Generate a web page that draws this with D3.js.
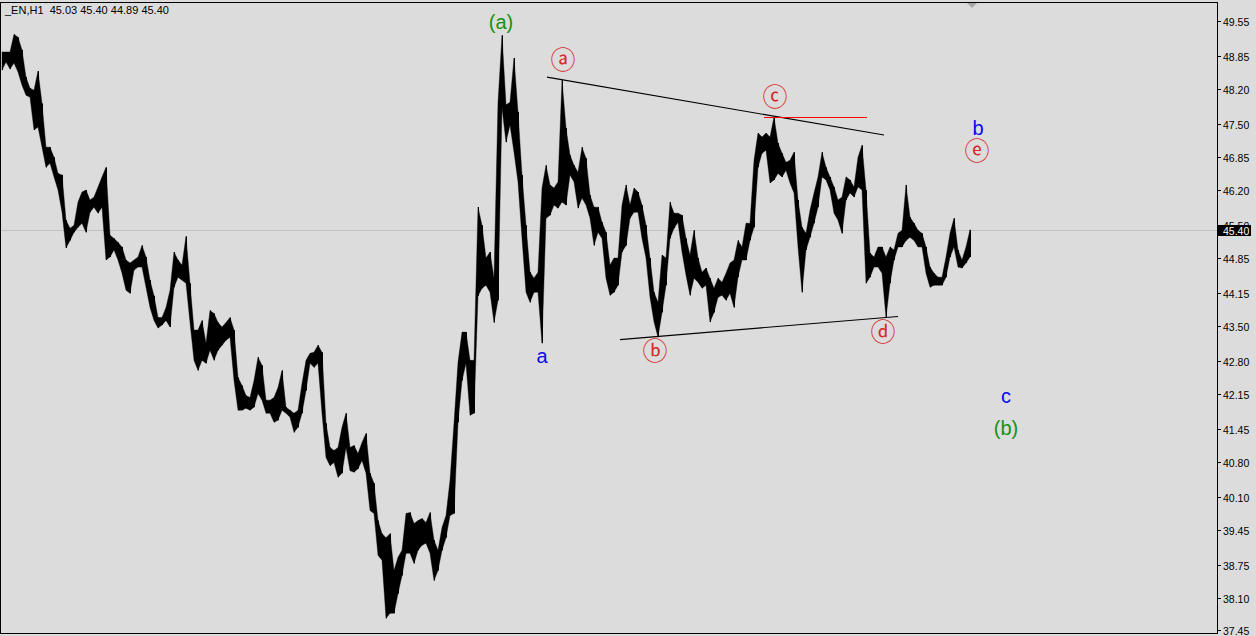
<!DOCTYPE html>
<html><head><meta charset="utf-8">
<script src="https://cdn.jsdelivr.net/npm/d3@7"></script>
<style>
html,body{margin:0;padding:0;background:#dcdcdc;}
svg{display:block}
</style></head>
<body>
<svg id="c" width="1256" height="636"></svg>
<script>
// ---------- data ----------
const symbol = "_EN,H1";
const ohlc = ["45.03", "45.40", "44.89", "45.40"];
const lastPrice = 45.40;
const highs = [48.93,48.93,48.93,49.28,49.22,48.97,48.43,48.21,48.17,48.55,
47.91,47.04,47.04,46.84,46.52,46.49,45.59,45.43,45.49,45.95,
46.15,46.19,45.99,46.05,46.25,46.45,46.64,45.29,45.23,45.15,
45.06,44.80,44.74,44.80,44.86,45.09,44.86,44.40,44.09,43.66,
43.66,43.86,44.20,44.96,44.80,44.70,45.27,44.34,43.41,43.41,
43.60,43.15,43.80,43.74,43.56,43.47,43.56,43.66,43.41,42.47,
42.31,42.11,42.07,42.41,42.87,42.71,42.02,42.02,42.07,42.27,
42.61,41.88,41.82,41.76,41.82,42.35,42.81,42.95,42.97,43.11,
42.97,41.56,41.08,41.02,41.08,41.48,41.76,41.08,41.12,40.96,
41.18,41.36,40.57,40.37,39.63,39.37,39.29,39.37,38.64,38.90,
39.04,39.77,39.79,39.57,39.63,39.67,39.59,39.79,39.24,39.04,
39.49,39.73,40.43,41.56,42.77,43.37,43.37,42.81,42.81,45.85,
45.49,44.84,44.96,44.44,47.93,49.26,47.88,47.93,48.81,47.74,
46.49,45.49,44.56,44.44,44.56,46.23,46.68,46.29,46.23,46.35,
48.37,47.42,46.88,46.68,46.54,47.04,46.82,46.09,45.85,45.85,
45.55,45.35,44.70,44.84,44.84,45.89,46.29,45.89,46.23,46.15,
45.89,45.49,44.84,44.16,43.96,44.90,44.84,45.95,45.73,45.73,
45.69,45.23,44.90,45.39,44.84,44.56,44.64,44.44,44.24,44.44,
44.36,44.54,44.74,44.80,45.19,45.06,45.53,45.53,46.78,47.32,
47.24,47.32,47.24,47.64,47.12,46.92,46.74,46.78,46.94,45.99,
45.45,45.33,45.79,46.13,46.45,46.94,46.64,46.45,46.25,45.99,
46.05,46.45,46.39,46.25,46.84,47.08,46.19,44.94,44.86,45.06,
45.06,44.86,45.06,45.00,45.33,45.39,46.29,45.65,45.53,45.39,
45.33,45.06,44.66,44.54,44.46,44.46,44.86,45.33,45.63,45.00,
44.80,45.06,45.40];
const lows = [48.57,48.73,48.59,48.71,48.53,48.27,48.07,48.03,47.38,47.44,
47.04,46.64,46.72,46.45,46.19,45.75,45.04,45.19,45.35,45.45,
45.53,45.35,45.75,45.85,45.73,45.85,44.80,44.86,45.00,44.80,
44.54,44.20,44.14,44.60,44.66,44.66,44.26,43.86,43.60,43.45,
43.51,43.60,43.47,44.26,44.46,44.40,44.34,43.56,42.81,42.61,
42.81,42.75,43.01,42.81,43.01,43.11,43.21,43.27,42.41,41.82,
41.82,41.86,41.82,41.88,42.15,42.02,41.76,41.76,41.58,41.62,
41.82,41.76,41.68,41.38,41.48,41.76,42.21,42.75,42.67,42.75,
41.76,40.88,40.72,40.78,40.49,40.57,41.08,40.62,40.59,40.66,
40.82,40.57,39.83,39.77,38.94,38.84,37.69,37.79,37.79,38.18,
38.54,38.98,38.98,38.78,39.04,39.14,39.18,38.98,38.44,38.64,
39.04,39.29,39.73,39.77,41.58,42.41,42.75,41.72,41.76,44.09,
44.24,44.30,44.16,43.56,44.00,47.82,47.14,47.48,46.94,46.35,
45.23,44.16,43.96,44.16,44.16,43.15,45.63,45.69,45.89,45.83,
45.95,45.89,46.49,46.35,45.83,46.03,45.89,45.63,45.09,45.35,
45.23,44.44,44.10,44.16,44.30,44.96,45.09,45.63,45.75,45.75,
45.23,44.84,44.06,43.57,43.27,43.76,44.30,45.23,45.43,45.55,
44.96,44.50,44.10,44.44,44.36,44.24,44.30,43.57,43.76,44.06,
44.10,44.00,44.14,43.86,44.46,44.80,44.80,45.19,45.45,46.64,
46.92,46.98,46.33,46.39,46.52,46.45,46.58,46.33,46.13,45.06,
44.16,45.00,45.25,45.53,45.85,46.45,46.39,46.19,45.73,45.59,
45.33,45.99,46.13,46.05,46.25,46.19,44.34,44.46,44.66,44.66,
44.54,43.66,44.34,44.80,45.06,45.06,45.19,45.25,45.19,45.06,
45.06,44.54,44.26,44.30,44.30,44.30,44.46,44.86,45.06,44.66,
44.64,44.74,44.86];
const tickLabels = ["49.55","48.85","48.20","47.50","46.85","46.20","45.50","44.85","44.15",
"43.50","42.80","42.15","41.45","40.80","40.10","39.45","38.75","38.10","37.45"];
// trend lines: [barIndex, price] pairs
const trendLines = [
  {x1:136.75, p1:48.43, x2:221.0, p2:47.28, color:"#000000"},
  {x1:155.0,  p1:43.22, x2:224.5, p2:43.68, color:"#000000"},
  {x1:191.0,  p1:47.63, x2:216.75,p2:47.63, color:"#ff0000"}
];
const waveText  = ["(a)", "ⓐ", "a", "ⓑ", "ⓒ", "ⓓ", "b", "ⓔ", "c", "(b)"];
const waveIndex = [125.25, 140.75, 135.5, 163.75, 193.75, 220.75, 244.5, 244.25, 251.5, 251.5];
const wavePrice = [49.52, 48.77, 42.89, 42.99, 48.03, 43.37, 47.42, 46.96, 42.10, 41.46];
const waveKind  = ["green","red","blue","red","red","red","blue","red","blue","green"];

// ---------- layout ----------
const W = 1256, H = 636;
const plotRight = 1217;
const colors = {green:"#149214", red:"#d42a2a", blue:"#0a0af0"};
const svg = d3.select("#c");
svg.append("rect").attr("width",W).attr("height",H).attr("fill","#dcdcdc");

const x = d3.scaleLinear().domain([0, highs.length]).range([0, highs.length*4]);
const y = d3.scaleLinear().domain([37.45, 49.55]).range([630.4, 20.7]);

// bid line
svg.append("line").attr("x1",1).attr("x2",plotRight).attr("y1",Math.round(y(lastPrice))+0.5)
  .attr("y2",Math.round(y(lastPrice))+0.5).attr("stroke","#c0c0c0").attr("stroke-width",1);

// price range band (high/low of each bar)
const bars = highs.map((h,i)=>({i, h, l:lows[i]}));
const area = d3.area().x(d=>x(d.i+0.5)).y0(d=>y(d.l)).y1(d=>y(d.h)).curve(d3.curveLinear);
svg.append("path").datum(bars).attr("d", area).attr("fill","#000")
  .attr("stroke","#000").attr("stroke-width",0.4);
// individual bar strokes
svg.append("g").selectAll("line").data(bars).join("line")
  .attr("x1",d=>Math.round(x(d.i+0.5))+0.5).attr("x2",d=>Math.round(x(d.i+0.5))+0.5)
  .attr("y1",d=>y(d.h)).attr("y2",d=>y(d.l))
  .attr("stroke","#000").attr("stroke-width",1);

// trend lines
svg.append("g").selectAll("line").data(trendLines).join("line")
  .attr("x1",d=>x(d.x1)).attr("y1",d=>y(d.p1)).attr("x2",d=>x(d.x2)).attr("y2",d=>y(d.p2))
  .attr("stroke",d=>d.color).attr("stroke-width",1.1);

// wave labels
const labels = waveText.map((t,i)=>({t, i:waveIndex[i], p:wavePrice[i], k:waveKind[i]}));
svg.append("g").selectAll("text").data(labels).join("text")
  .attr("x",d=>x(d.i)).attr("y",d=>y(d.p) - (d.k==="red" ? 2 : 0))
  .attr("text-anchor","middle").attr("dominant-baseline","central")
  .attr("font-family",d=>d.k==="red" ? "'Noto Sans CJK SC', 'DejaVu Sans', sans-serif" : "'Liberation Sans', Arial, sans-serif")
  .attr("font-size",d=>d.k==="red" ? 25 : 20)
  .attr("fill",d=>colors[d.k])
  .text(d=>d.t);

// frame
svg.append("rect").attr("x",0.5).attr("y",2.5).attr("width",plotRight-0.5).attr("height",631)
  .attr("fill","none").attr("stroke","#000").attr("stroke-width",1).attr("shape-rendering","crispEdges");

// shift marker
svg.append("path").attr("d","M967,3 L977,3 L972,8 Z").attr("fill","#a8a8a8");

// price axis
const axis = svg.append("g");
tickLabels.forEach(t=>{
  const v = +t, yy = Math.round(y(v))+0.5;
  axis.append("line").attr("x1",plotRight).attr("x2",plotRight+4).attr("y1",yy).attr("y2",yy)
    .attr("stroke","#000").attr("shape-rendering","crispEdges");
  axis.append("text").attr("x",plotRight+6).attr("y",yy).attr("dominant-baseline","central")
    .attr("font-family","'Liberation Sans', Arial, sans-serif").attr("font-size",10.5)
    .attr("fill","#000").text(t);
});
// current price tag
const yp = y(lastPrice);
axis.append("rect").attr("x",plotRight+1).attr("y",Math.round(yp)-5).attr("width",33).attr("height",11).attr("fill","#000");
axis.append("text").attr("x",plotRight+6).attr("y",Math.round(yp)+0.5).attr("dominant-baseline","central")
  .attr("font-family","'Liberation Sans', Arial, sans-serif").attr("font-size",10.5)
  .attr("fill","#fff").text(d3.format(".2f")(lastPrice));

// header
svg.append("text").attr("x",5).attr("y",14).attr("font-family","'Liberation Sans', Arial, sans-serif")
  .attr("font-size",11).attr("fill","#000").style("white-space","pre")
  .text(symbol + "  " + ohlc.join(" "));
</script>
</body></html>
